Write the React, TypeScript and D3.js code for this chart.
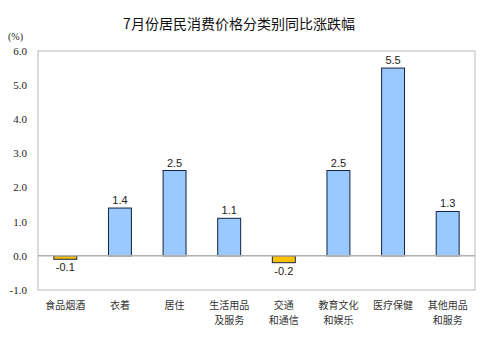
import React from 'react';
import * as d3 from 'd3';

const TITLE = '7月份居民消费价格分类别同比涨跌幅';
const UNIT = '(%)';
const categories = ['食品烟酒', '衣着', '居住', '生活用品\n及服务', '交通\n和通信', '教育文化\n和娱乐', '医疗保健', '其他用品\n和服务'];
const values = [-0.1, 1.4, 2.5, 1.1, -0.2, 2.5, 5.5, 1.3];
const yTicks = [-1, 0, 1, 2, 3, 4, 5, 6];

const W = 500;
const H = 345;
const margin = { left: 38, top: 51, right: 25, bottom: 55 };

export default function App() {
	const innerW = W - margin.left - margin.right;
	const innerH = H - margin.top - margin.bottom;

	const x = d3.scaleBand<string>().domain(categories).range([0, innerW]).paddingInner(0.58).paddingOuter(0.29);
	const y = d3.scaleLinear().domain([-1, 6]).range([innerH, 0]);
	const cx = (c: string) => (x(c) ?? 0) + x.bandwidth() / 2;

	return (
		<svg width={W} height={H} style={{ position: 'absolute', left: 0, top: 0, background: '#fff' }}>
			<text x={239} y={29} textAnchor="middle" fontFamily="'Noto Sans CJK SC', sans-serif" fontSize={14} fill="#111">{TITLE}</text>
			<text x={8} y={40} fontFamily="'Liberation Serif', serif" fontSize={10} fill="#222">{UNIT}</text>
			<g transform={`translate(${margin.left},${margin.top})`}>
				{/* y tick labels */}
				{yTicks.map(t => (
					<text key={t} x={-11} y={y(t)} dy="0.35em" textAnchor="end" fontFamily="'Liberation Serif', serif" fontSize={11} fill="#222">
						{t.toFixed(1)}
					</text>
				))}
				<rect x={0} y={0} width={innerW} height={innerH} fill="none" stroke="#b8b8b8" strokeWidth={1} />
				{values.map((v, i) => {
					const c = categories[i];
					const y0 = y(Math.max(0, v));
					const h = Math.abs(y(v) - y(0));
					return (
						<g key={c}>
							<rect x={x(c)} y={y0} width={x.bandwidth()} height={h}
								fill={v < 0 ? '#ffc000' : '#99c9ff'} stroke="#14233f" strokeWidth={1} />
							<text x={cx(c)} y={v < 0 ? y(v) + 12 : y(v) - 4} textAnchor="middle"
								fontFamily="'Liberation Sans', Arial, sans-serif" fontSize={11} fill="#222">
								{v.toFixed(1)}
							</text>
						</g>
					);
				})}
				<line x1={0} x2={innerW} y1={y(0)} y2={y(0)} stroke="#b0b0b0" strokeWidth={1.5} />
				{/* x category labels, one text per line */}
				{categories.map(c =>
					c.split('\n').map((s, k) => (
						<text key={c + k} x={cx(c)} y={innerH + 19 + k * 14.5} textAnchor="middle"
							fontFamily="'Noto Sans CJK SC', sans-serif" fontSize={10} fill="#333">
							{s}
						</text>
					))
				)}
			</g>
		</svg>
	);
}
